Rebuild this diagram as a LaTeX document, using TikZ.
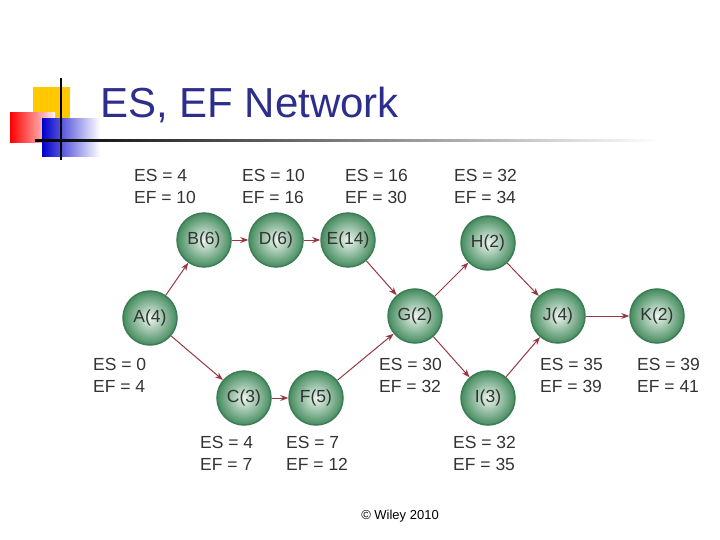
\documentclass[tikz,border=0pt]{standalone}
\usepackage{fontspec}
\setmainfont{Liberation Sans}
\usetikzlibrary{arrows.meta}
\definecolor{ttl}{RGB}{45,45,140}
\definecolor{arr}{RGB}{150,55,65}
\definecolor{ndi}{RGB}{235,245,238}
\definecolor{ndo}{RGB}{70,140,95}
\definecolor{ndb}{RGB}{60,125,85}
\definecolor{gold}{RGB}{255,200,0}
\tikzset{
 act/.style={circle,minimum size=54pt,inner sep=0pt,inner color=ndi,outer color=ndo,draw=ndb,line width=1.5pt,font=\fontsize{17.5}{17.5}\selectfont,text=black!80},
 lbl/.style={anchor=north west,align=left,inner sep=0pt,font=\fontsize{17.5}{22}\selectfont,text=black!80},
 con/.style={draw=arr,line width=1pt,-{Stealth[length=8pt,width=6pt]}}
}
\begin{document}
\begin{tikzpicture}[x=1pt,y=-1pt]
\useasboundingbox (0,0) rectangle (720,540);
% logo
\fill[gold] (33,87) rectangle (70,120);
\shade[left color=red, right color=red!5] (55,113) rectangle (10,143);
\shade[left color=blue!80!black, right color=white] (42,119) rectangle (100,157);
\draw[line width=2pt] (61,78) -- (61,160);
\shade[left color=black, right color=white] (35,140) rectangle (660,142);
\node[anchor=base west,inner sep=0pt,text=ttl,font=\fontsize{42}{42}\selectfont] (t) at (100,118) {ES, EF Network};
% nodes
\node[act] (A) at (150,318) {A(4)};
\node[act] (B) at (204,240) {B(6)};
\node[act] (D) at (276,240) {D(6)};
\node[act] (E) at (348,240) {E(14)};
\node[act] (G) at (415,316) {G(2)};
\node[act] (H) at (488,243) {H(2)};
\node[act] (I) at (488,398) {I(3)};
\node[act] (J) at (558,316) {J(4)};
\node[act] (K) at (657,316) {K(2)};
\node[act] (C) at (244,398) {C(3)};
\node[act] (F) at (316,398) {F(5)};
\foreach \a/\b in {A/B,B/D,D/E,E/G,A/C,C/F,F/G,G/H,G/I,H/J,I/J,J/K}
  \draw[con] (\a) -- (\b);
% labels
\node[lbl] (lB) at (134,169) {ES = 4\\EF = 10};
\node[lbl] (lD) at (242,169) {ES = 10\\EF = 16};
\node[lbl] (lE) at (345,169) {ES = 16\\EF = 30};
\node[lbl] (lH) at (454,169) {ES = 32\\EF = 34};
\node[lbl] (lA) at (93,358) {ES = 0\\EF = 4};
\node[lbl] (lG) at (379,358) {ES = 30\\EF = 32};
\node[lbl] (lJ) at (540,358) {ES = 35\\EF = 39};
\node[lbl] (lK) at (637,358) {ES = 39\\EF = 41};
\node[lbl] (lC) at (200,436) {ES = 4\\EF = 7};
\node[lbl] (lF) at (286,436) {ES = 7\\EF = 12};
\node[lbl] (lI) at (453,436) {ES = 32\\EF = 35};
\node[font=\fontsize{13}{13}\selectfont] (cp) at (400,516) {© Wiley 2010};
\end{tikzpicture}
\end{document}
